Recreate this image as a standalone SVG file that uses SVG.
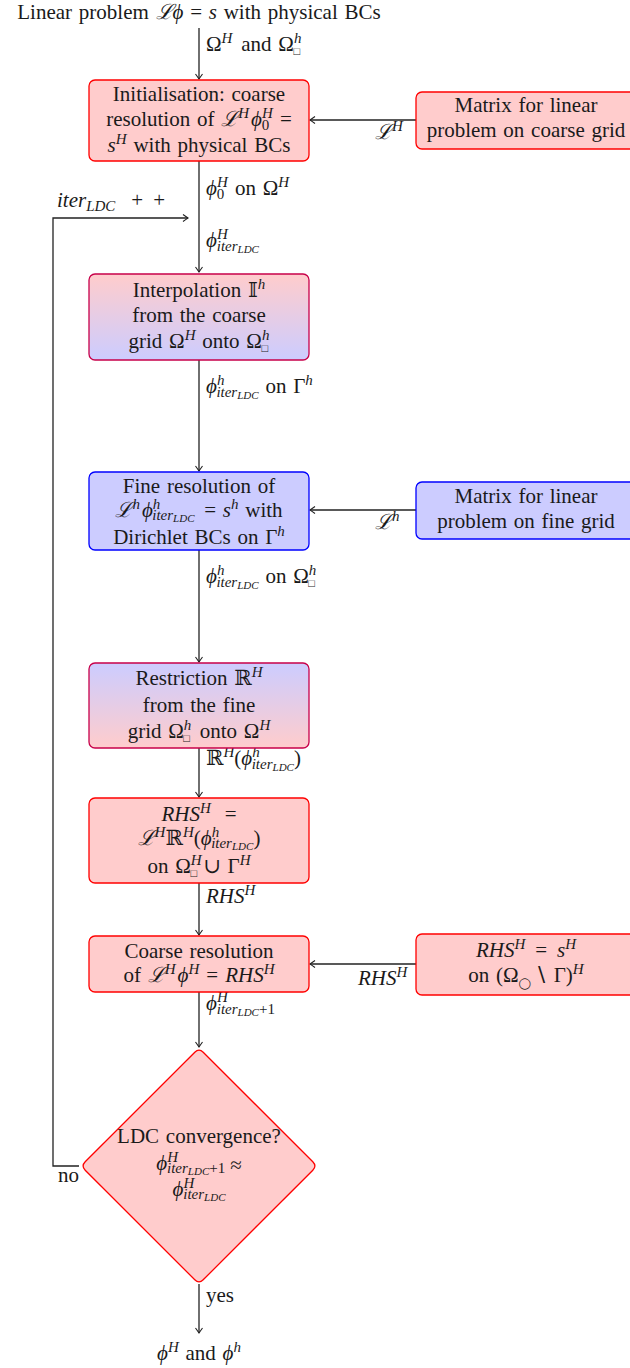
<svg xmlns="http://www.w3.org/2000/svg" width="630" height="1368" viewBox="0 0 630 1368">
<defs>
<style>
.t{font-family:"Liberation Serif","DejaVu Serif",serif;font-size:21px;fill:#1a1a1a;word-spacing:1.5px}
.m{text-anchor:middle}
.i{font-style:italic}
.sp{font-size:15px}
.ss{font-size:11px}
.red{fill:#ffcccc;stroke:#ff0000;stroke-width:1.3}
.blue{fill:#ccccff;stroke:#0000ff;stroke-width:1.3}
.mix1{fill:url(#gPB);stroke:#c8004a;stroke-width:1.3}
.mix2{fill:url(#gBP);stroke:#c8004a;stroke-width:1.3}
.c{fill:none;stroke:#222;stroke-width:1.3}
</style>
<linearGradient id="gPB" x1="0" y1="0" x2="0" y2="1"><stop offset="0" stop-color="#ffcccc"/><stop offset="1" stop-color="#ccccff"/></linearGradient>
<linearGradient id="gBP" x1="0" y1="0" x2="0" y2="1"><stop offset="0" stop-color="#ccccff"/><stop offset="1" stop-color="#ffcccc"/></linearGradient>
<marker id="ar" markerWidth="10" markerHeight="10" refX="9" refY="5" orient="auto" markerUnits="userSpaceOnUse"><path d="M4,1.5 Q7.5,4 9,5 Q7.5,6 4,8.5" fill="none" stroke="#222" stroke-width="1.1"/></marker>
</defs>

<g id="connectors">
<line class="c" x1="199" y1="28" x2="199" y2="79" marker-end="url(#ar)"/>
<line class="c" x1="199" y1="161" x2="199" y2="272" marker-end="url(#ar)"/>
<line class="c" x1="416" y1="120" x2="310" y2="120" marker-end="url(#ar)"/>
<line class="c" x1="199" y1="360" x2="199" y2="471" marker-end="url(#ar)"/>
<line class="c" x1="416" y1="510" x2="310" y2="510" marker-end="url(#ar)"/>
<line class="c" x1="199" y1="550" x2="199" y2="662" marker-end="url(#ar)"/>
<line class="c" x1="199" y1="748" x2="199" y2="797" marker-end="url(#ar)"/>
<line class="c" x1="199" y1="883" x2="199" y2="935" marker-end="url(#ar)"/>
<line class="c" x1="416" y1="964" x2="310" y2="964" marker-end="url(#ar)"/>
<line class="c" x1="199" y1="992" x2="199" y2="1047" marker-end="url(#ar)"/>
<line class="c" x1="199" y1="1284" x2="199" y2="1333" marker-end="url(#ar)"/>
<polyline class="c" points="79,1166 53,1166 53,218 188,218" marker-end="url(#ar)"/>
<text class="t" x="206" y="51">Ω<tspan class="i sp" dy="-8">H</tspan><tspan dy="8" dx="2"> and Ω</tspan><tspan class="i sp" dy="-8">h</tspan><tspan class="ss" dx="-8" dy="12">□</tspan></text>
<text class="t i" x="375" y="139">ℒ<tspan class="sp" dy="-8">H</tspan></text>
<text class="t" x="206" y="195"><tspan class="i">ϕ</tspan><tspan class="i sp" dy="-8">H</tspan><tspan class="sp" dx="-11" dy="12">0</tspan><tspan dy="-4" dx="4"> on Ω</tspan><tspan class="i sp" dy="-8">H</tspan></text>
<text class="t" x="57" y="207"><tspan class="i">iter</tspan><tspan class="i sp" dy="4">LDC</tspan><tspan dy="-4" dx="16">+</tspan><tspan dx="10">+</tspan></text>
<text class="t" x="206" y="247"><tspan class="i">ϕ</tspan><tspan class="i sp" dy="-8">H</tspan><tspan class="i sp" dx="-11" dy="12">iter</tspan><tspan class="i ss" dy="2">LDC</tspan></text>
<text class="t" x="206" y="393"><tspan class="i">ϕ</tspan><tspan class="i sp" dy="-8">h</tspan><tspan class="i sp" dx="-8" dy="12">iter</tspan><tspan class="i ss" dy="2">LDC</tspan><tspan dy="-6"> on Γ</tspan><tspan class="i sp" dy="-8">h</tspan></text>
<text class="t i" x="375" y="529">ℒ<tspan class="sp" dy="-8">h</tspan></text>
<text class="t" x="206" y="583"><tspan class="i">ϕ</tspan><tspan class="i sp" dy="-8">h</tspan><tspan class="i sp" dx="-8" dy="12">iter</tspan><tspan class="i ss" dy="2">LDC</tspan><tspan dy="-6"> on Ω</tspan><tspan class="i sp" dy="-8">h</tspan><tspan class="ss" dx="-8" dy="12">□</tspan></text>
<text class="t" x="206" y="765">ℝ<tspan class="i sp" dy="-8">H</tspan><tspan dy="8">(</tspan><tspan class="i">ϕ</tspan><tspan class="i sp" dy="-8">h</tspan><tspan class="i sp" dx="-8" dy="12">iter</tspan><tspan class="i ss" dy="2">LDC</tspan><tspan dy="-6">)</tspan></text>
<text class="t" x="206" y="903"><tspan class="i">RHS</tspan><tspan class="i sp" dy="-8">H</tspan></text>
<text class="t" x="358" y="985"><tspan class="i">RHS</tspan><tspan class="i sp" dy="-8">H</tspan></text>
<text class="t" x="206" y="1010"><tspan class="i">ϕ</tspan><tspan class="i sp" dy="-8">H</tspan><tspan class="i sp" dx="-11" dy="12">iter</tspan><tspan class="i ss" dy="2">LDC</tspan><tspan class="sp" dy="-2">+1</tspan></text>
<text class="t" x="58" y="1182">no</text>
<text class="t" x="206" y="1302">yes</text>
</g>

<g id="start"><text class="t m" x="199" y="19">Linear problem <tspan class="i">ℒϕ</tspan> = <tspan class="i">s</tspan> with physical BCs</text></g>

<g id="init">
<rect class="red" x="89" y="80" width="220" height="81" rx="6"/>
<text class="t m" x="199" y="101">Initialisation: coarse</text>
<text class="t m" x="199" y="126">resolution of <tspan class="i">ℒ</tspan><tspan class="i sp" dy="-8">H</tspan><tspan class="i" dy="8" dx="2">ϕ</tspan><tspan class="i sp" dy="-8">H</tspan><tspan class="sp" dx="-11" dy="12">0</tspan><tspan dy="-4" dx="4"> =</tspan></text>
<text class="t m" x="199" y="152"><tspan class="i">s</tspan><tspan class="i sp" dy="-8">H</tspan><tspan dy="8"> with physical BCs</tspan></text>
</g>

<g id="matrix-coarse">
<rect class="red" x="416" y="92" width="224" height="57" rx="6"/>
<text class="t m" x="526" y="112">Matrix for linear</text>
<text class="t m" x="526" y="137">problem on coarse grid</text>
</g>

<g id="interp">
<rect class="mix1" x="89" y="274" width="220" height="86" rx="6"/>
<text class="t m" x="199" y="297">Interpolation 𝕀<tspan class="i sp" dy="-8">h</tspan></text>
<text class="t m" x="199" y="322">from the coarse</text>
<text class="t m" x="199" y="348">grid Ω<tspan class="i sp" dy="-8">H</tspan><tspan dy="8"> onto Ω</tspan><tspan class="i sp" dy="-8">h</tspan><tspan class="ss" dx="-8" dy="12">□</tspan></text>
</g>

<g id="fine">
<rect class="blue" x="89" y="472" width="220" height="78" rx="6"/>
<text class="t m" x="199" y="493">Fine resolution of</text>
<text class="t m" x="199" y="517"><tspan class="i">ℒ</tspan><tspan class="i sp" dy="-8">h</tspan><tspan class="i" dy="8" dx="2">ϕ</tspan><tspan class="i sp" dy="-8">h</tspan><tspan class="i sp" dx="-8" dy="11">iter</tspan><tspan class="i ss" dy="2">LDC</tspan><tspan dy="-5" dx="3"> = </tspan><tspan class="i">s</tspan><tspan class="i sp" dy="-8">h</tspan><tspan dy="8"> with</tspan></text>
<text class="t m" x="199" y="544">Dirichlet BCs on Γ<tspan class="i sp" dy="-8">h</tspan></text>
</g>

<g id="matrix-fine">
<rect class="blue" x="416" y="482" width="224" height="57" rx="6"/>
<text class="t m" x="526" y="503">Matrix for linear</text>
<text class="t m" x="526" y="528">problem on fine grid</text>
</g>

<g id="restrict">
<rect class="mix2" x="89" y="663" width="220" height="85" rx="6"/>
<text class="t m" x="199" y="685">Restriction ℝ<tspan class="i sp" dy="-8">H</tspan></text>
<text class="t m" x="199" y="712">from the fine</text>
<text class="t m" x="199" y="738">grid Ω<tspan class="i sp" dy="-8">h</tspan><tspan class="ss" dx="-8" dy="12">□</tspan><tspan dy="-4" dx="3"> onto Ω</tspan><tspan class="i sp" dy="-8">H</tspan></text>
</g>

<g id="rhs">
<rect class="red" x="89" y="798" width="220" height="85" rx="6"/>
<text class="t m" x="199" y="821"><tspan class="i">RHS</tspan><tspan class="i sp" dy="-8">H</tspan><tspan dy="8" dx="14">=</tspan></text>
<text class="t m" x="199" y="845"><tspan class="i">ℒ</tspan><tspan class="i sp" dy="-8">H</tspan><tspan dy="8">ℝ</tspan><tspan class="i sp" dy="-8">H</tspan><tspan dy="8">(</tspan><tspan class="i">ϕ</tspan><tspan class="i sp" dy="-8">h</tspan><tspan class="i sp" dx="-8" dy="11">iter</tspan><tspan class="i ss" dy="2">LDC</tspan><tspan dy="-5">)</tspan></text>
<text class="t m" x="199" y="873">on Ω<tspan class="i sp" dy="-8">H</tspan><tspan class="ss" dx="-11" dy="12">□</tspan><tspan dy="-4" dx="6">∪ Γ</tspan><tspan class="i sp" dy="-8">H</tspan></text>
</g>

<g id="coarse">
<rect class="red" x="89" y="936" width="220" height="56" rx="6"/>
<text class="t m" x="199" y="958">Coarse resolution</text>
<text class="t m" x="199" y="982">of <tspan class="i">ℒ</tspan><tspan class="i sp" dy="-8">H</tspan><tspan class="i" dy="8" dx="2">ϕ</tspan><tspan class="i sp" dy="-8">H</tspan><tspan dy="8" dx="7">=</tspan><tspan dx="7" class="i">RHS</tspan><tspan class="i sp" dy="-8">H</tspan></text>
</g>

<g id="rhs-def">
<rect class="red" x="416" y="934" width="224" height="61" rx="6"/>
<text class="t m" x="526" y="957"><tspan class="i">RHS</tspan><tspan class="i sp" dy="-8">H</tspan><tspan dy="8" dx="10">=</tspan><tspan dx="10" class="i">s</tspan><tspan class="i sp" dy="-8">H</tspan></text>
<text class="t m" x="526" y="982">on (Ω<tspan class="ss" dy="5">◯</tspan><tspan dy="-5" dx="3">∖ Γ)</tspan><tspan class="i sp" dy="-8">H</tspan></text>
</g>

<g id="convergence">
<path class="red" d="M194.8,1052.2 Q199,1048 203.2,1052.2 L312.8,1161.8 Q317,1166 312.8,1170.2 L203.2,1279.8 Q199,1284 194.8,1279.8 L85.2,1170.2 Q81,1166 85.2,1161.8 Z"/>
<text class="t m" x="199" y="1143">LDC convergence?</text>
<text class="t m" x="199" y="1170"><tspan class="i">ϕ</tspan><tspan class="i sp" dy="-8">H</tspan><tspan class="i sp" dx="-11" dy="11">iter</tspan><tspan class="i ss" dy="2">LDC</tspan><tspan class="sp" dy="-2">+1</tspan><tspan dy="-1" dx="5">≈</tspan></text>
<text class="t m" x="199" y="1196"><tspan class="i">ϕ</tspan><tspan class="i sp" dy="-8">H</tspan><tspan class="i sp" dx="-11" dy="11">iter</tspan><tspan class="i ss" dy="2">LDC</tspan></text>
</g>

<g id="result"><text class="t m" x="199" y="1360"><tspan class="i">ϕ</tspan><tspan class="i sp" dy="-8">H</tspan><tspan dy="8"> and </tspan><tspan class="i">ϕ</tspan><tspan class="i sp" dy="-8">h</tspan></text></g>
</svg>
